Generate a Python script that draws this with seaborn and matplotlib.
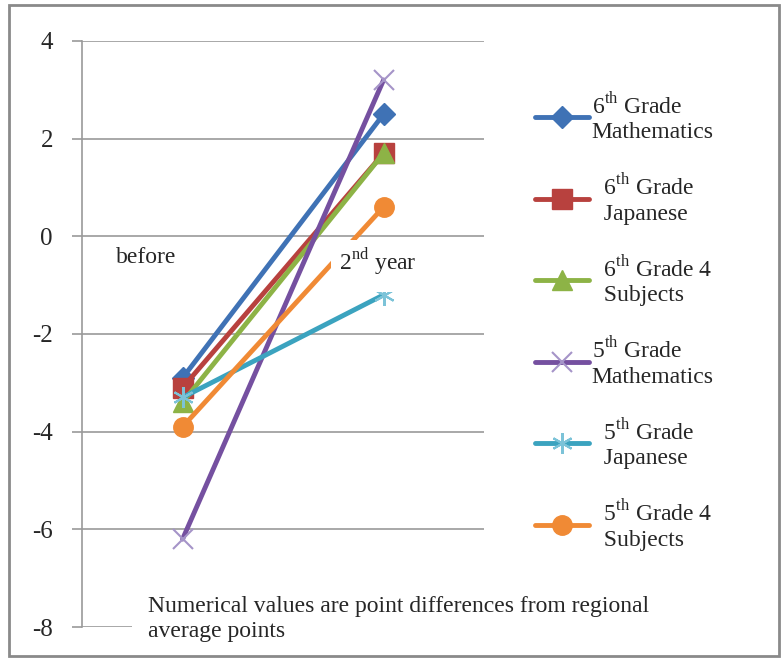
import matplotlib
matplotlib.use("Agg")
import matplotlib.pyplot as plt
from matplotlib.patches import Rectangle
import numpy as np
import seaborn as sns

# --- Data -------------------------------------------------------------------
periods = ["before", "2$^{\\mathrm{nd}}$ year"]
series_names = [
    "6$^{\\mathrm{th}}$ Grade\nMathematics",
    "  6$^{\\mathrm{th}}$ Grade\n  Japanese",
    "  6$^{\\mathrm{th}}$ Grade 4\n  Subjects",
    "5$^{\\mathrm{th}}$ Grade\nMathematics",
    "  5$^{\\mathrm{th}}$ Grade\n  Japanese",
    "  5$^{\\mathrm{th}}$ Grade 4\n  Subjects",
]
math6 = [-2.9, 2.5]
japanese6 = [-3.1, 1.7]
subjects6 = [-3.4, 1.7]
math5 = [-6.2, 3.2]
japanese5 = [-3.3, -1.2]
subjects5 = [-3.9, 0.6]
y_ticks = [-8, -6, -4, -2, 0, 2, 4]
note = "Numerical values are point differences from regional\naverage points"

# --- Styles -----------------------------------------------------------------
colors = ["#3F72B5", "#B8413E", "#8DB346", "#7550A0", "#3BA3BF", "#F08A35"]
edge_colors = ["#3F72B5", "#B8413E", "#8DB346", "#A594C8", "#7CC3D8", "#F08A35"]
markers = ["D", "s", "^", "x", (6, 2, 0), "o"]
msizes = [11, 14, 14, 15, 15, 14]
mews = [1, 1, 1, 1.5, 1.5, 1]
grid_col = "#9a9a9a"

sns.set_style("white")
plt.rcParams["font.family"] = ["Liberation Serif", "DejaVu Serif"]
plt.rcParams["mathtext.fontset"] = "custom"
plt.rcParams["mathtext.rm"] = "Liberation Serif"
plt.rcParams["axes.unicode_minus"] = False

fig = plt.figure(figsize=(7.82, 6.6), dpi=100)
ax = fig.add_axes([0.105, 0.05, 0.514, 0.888])

x = np.arange(len(periods))
all_series = [math6, japanese6, subjects6, math5, japanese5, subjects5]
for i, vals in enumerate(all_series):
    sns.lineplot(x=x, y=vals, ax=ax, color=colors[i], linewidth=3.5,
                 marker=markers[i], markersize=msizes[i],
                 markeredgecolor=edge_colors[i], markerfacecolor=colors[i],
                 markeredgewidth=mews[i], label=series_names[i], zorder=3)

ax.set_xlim(-0.5, 1.5)
ax.set_ylim(-8, 4)
ax.set_yticks(y_ticks)
ax.set_yticklabels([str(t) for t in y_ticks], fontsize=18)
ax.set_xticks([])
ax.yaxis.grid(True, color=grid_col, linewidth=1.2)
ax.tick_params(axis="y", left=True, length=7, width=1.2, color=grid_col, pad=14)
for side in ["top", "right", "bottom"]:
    ax.spines[side].set_visible(False)
ax.spines["left"].set_color(grid_col)
ax.spines["left"].set_linewidth(1.2)

# category labels sitting under the zero line, on white boxes
ax.text(-0.18, -0.43, periods[0], fontsize=17, ha="center", va="center",
        bbox=dict(fc="white", ec="none", pad=3), zorder=4)
ax.add_patch(Rectangle((0.737, -1.15), 0.56, 1.07, fc="white", ec="none",
                       zorder=4))
ax.text(0.97, -0.53, periods[1], fontsize=17, ha="center", va="center",
        zorder=5)

ax.text(-0.17, -7.83, note, fontsize=17, ha="left", va="center",
        linespacing=1.25, bbox=dict(fc="white", ec="none", pad=12),
        zorder=4, clip_on=False)

leg = ax.legend(loc="center left", bbox_to_anchor=(0.669, 0.513),
                bbox_transform=fig.transFigure, frameon=False, fontsize=17,
                handlelength=2.3, handletextpad=0.1, labelspacing=1.3,
                borderpad=0)

fig.patches.append(Rectangle((0.011, 0.006), 0.985, 0.986,
                             transform=fig.transFigure, fill=False,
                             edgecolor="#8a8a8a", linewidth=2))

fig.savefig("out.png", dpi=100)
